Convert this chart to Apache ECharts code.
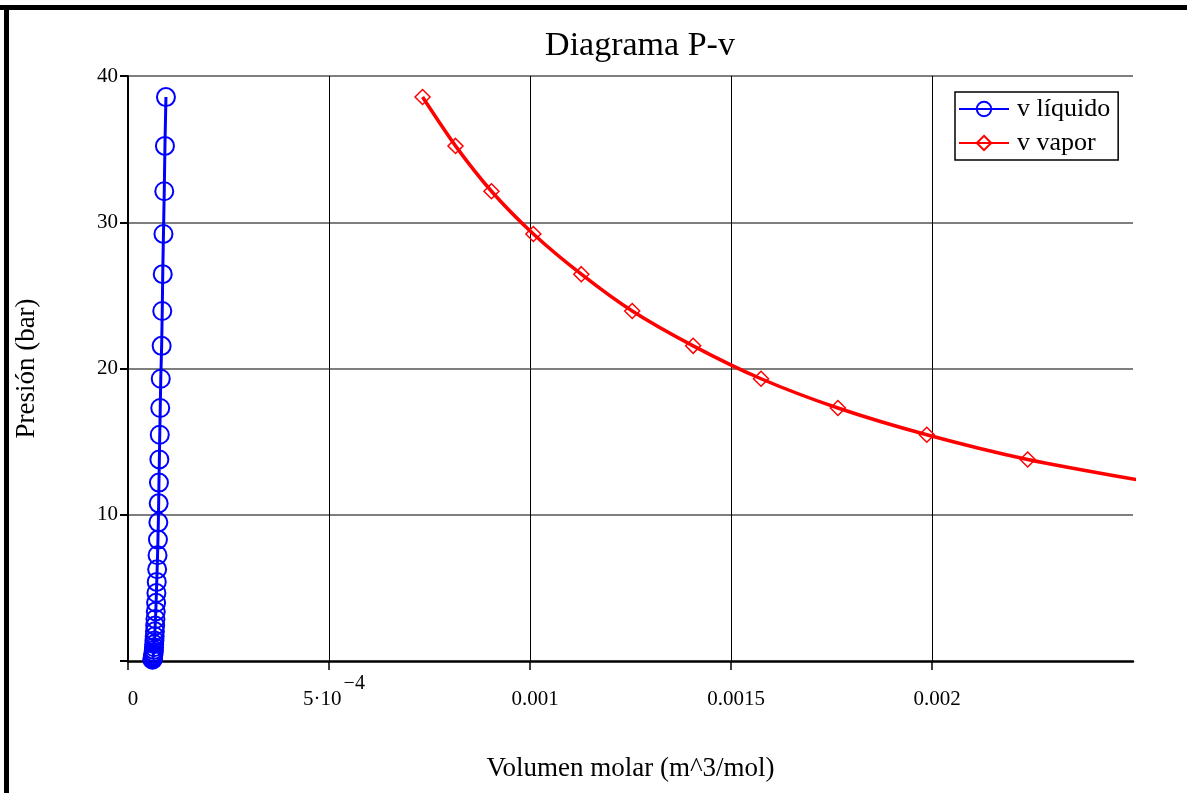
<!DOCTYPE html>
<html>
<head>
<meta charset="utf-8">
<script src="https://cdn.jsdelivr.net/npm/echarts@6/dist/echarts.min.js"></script>
<style>
html,body{margin:0;padding:0;background:#fff;}
#chart{width:1187px;height:793px;}
</style>
</head>
<body>
<div id="chart"></div>
<script>
// Pressures (bar) at each saturation state
const pressure = [38.56, 35.22, 32.12, 29.2, 26.45, 23.93, 21.55, 19.3, 17.3, 15.47, 13.78, 12.2, 10.78, 9.48, 8.3, 7.23, 6.27, 5.41, 4.65, 3.98, 3.39, 2.87, 2.42, 2.03, 1.69, 1.4, 1.15, 0.94, 0.76, 0.61, 0.48, 0.38, 0.29, 0.22, 0.17, 0.12, 0.09];
// Liquid molar volume (m^3/mol)
const vLiquid = [9.44e-5, 9.19e-5, 9.02e-5, 8.82e-5, 8.64e-5, 8.52e-5, 8.37e-5, 8.15e-5, 8.02e-5, 7.9e-5, 7.8e-5, 7.7e-5, 7.63e-5, 7.55e-5, 7.45e-5, 7.35e-5, 7.25e-5, 7.15e-5, 7.07e-5, 6.99e-5, 6.91e-5, 6.83e-5, 6.76e-5, 6.7e-5, 6.64e-5, 6.58e-5, 6.52e-5, 6.47e-5, 6.42e-5, 6.37e-5, 6.32e-5, 6.28e-5, 6.24e-5, 6.2e-5, 6.16e-5, 6.12e-5, 6.08e-5];
// Vapor molar volume (m^3/mol) for the first states (rest beyond axis range)
const vVapor = [7.327e-4, 8.147e-4, 9.041e-4, 1.0084e-3, 1.1276e-3, 1.2543e-3, 1.4059e-3, 1.5747e-3, 1.766e-3, 1.987e-3, 2.238e-3, 2.55e-3];
// Axis tick labels
const xTickLabels = {0: '0', 0.0005: '5·10|−4', 0.001: '0.001', 0.0015: '0.0015', 0.002: '0.002'};
const yTicks = [10, 20, 30, 40];

const FONT = '"Liberation Serif", "Times New Roman", serif';

const liquidData = vLiquid.map((v, i) => [v, pressure[i]]);
const vaporData = vVapor.map((v, i) => [v, pressure[i]]);

const chart = echarts.init(document.getElementById('chart'), null, {renderer: 'canvas'});
chart.setOption({
  animation: false,
  backgroundColor: '#fff',
  title: {
    text: 'Diagrama P-v',
    left: 635, top: 24, textAlign: 'center',
    textStyle: {fontFamily: FONT, fontSize: 34, fontWeight: 'normal', color: '#000'}
  },
  grid: {left: 128, top: 76, right: 54, bottom: 132, containLabel: false},
  legend: {
    left: 955, top: 92, orient: 'vertical',
    backgroundColor: '#fff',
    borderColor: '#000', borderWidth: 1.5,
    padding: [4, 8, 4, 3],
    itemWidth: 50, itemHeight: 18, itemGap: 8,
    textStyle: {fontFamily: FONT, fontSize: 26, color: '#000', padding: [0, 0, 0, 3]},
    data: ['v líquido', 'v vapor']
  },
  xAxis: {
    type: 'value', min: 0, max: 0.0025, interval: 0.0005,
    name: 'Volumen molar (m^3/mol)', nameLocation: 'middle', nameGap: 94,
    nameTextStyle: {fontFamily: FONT, fontSize: 27, color: '#000'},
    axisLine: {show: true, onZero: false, lineStyle: {color: '#000', width: 2.5}},
    axisTick: {show: true, length: 9, lineStyle: {color: '#000', width: 1.5}},
    splitLine: {show: true, showMinLine: false, showMaxLine: false, lineStyle: {color: '#000', width: 1}},
    axisLabel: {
      margin: 13, showMaxLabel: false,
      formatter: function (val) {
        const key = Math.round(val * 1e5) / 1e5;
        const s = xTickLabels[key];
        if (s === undefined) return '';
        if (s.indexOf('|') >= 0) {
          const p = s.split('|');
          return '{h| }{b|' + p[0] + '}{s|' + p[1] + '}';
        }
        return '{h| }{b|' + s + '}';
      },
      rich: {
        h: {fontSize: 1, lineHeight: 36, width: 0},
        b: {fontFamily: FONT, fontSize: 21, color: '#000', lineHeight: 22, verticalAlign: 'bottom', padding: [0, 0, 0, 10]},
        s: {fontFamily: FONT, fontSize: 20, color: '#000', lineHeight: 20, verticalAlign: 'top', padding: [0, 0, 0, 2]}
      }
    }
  },
  yAxis: {
    type: 'value', min: 0, max: 40, interval: 10,
    name: 'Presión (bar)', nameLocation: 'middle', nameGap: 88, nameRotate: 90,
    nameTextStyle: {fontFamily: FONT, fontSize: 27, color: '#000'},
    axisLine: {show: true, onZero: false, lineStyle: {color: '#000', width: 2}},
    axisTick: {show: true, length: 8, lineStyle: {color: '#000', width: 2}},
    splitLine: {show: true, showMinLine: false, showMaxLine: true, lineStyle: {color: '#555', width: 1.5}},
    axisLabel: {
      margin: 10,
      fontFamily: FONT, fontSize: 21, color: '#000',
      formatter: function (val) { return yTicks.indexOf(val) >= 0 ? String(val) : ''; }
    }
  },
  series: [
    {
      name: 'v líquido', type: 'line', data: liquidData,
      symbol: 'circle', symbolSize: 18, showAllSymbol: true,
      lineStyle: {color: '#0000ff', width: 3},
      itemStyle: {color: 'rgba(0,0,0,0)', borderColor: '#0000ff', borderWidth: 2},
      clip: true, z: 3
    },
    {
      name: 'v vapor', type: 'line', data: vaporData,
      symbol: 'diamond', symbolSize: 15, showAllSymbol: true,
      smooth: 0.25,
      lineStyle: {color: '#ff0000', width: 3.5},
      itemStyle: {color: 'rgba(0,0,0,0)', borderColor: '#ff0000', borderWidth: 1.5},
      clip: true, z: 3
    }
  ],
  graphic: [
    {type: 'rect', shape: {x: 0, y: 5, width: 1187, height: 5}, style: {fill: '#000'}, silent: true},
    {type: 'rect', shape: {x: 4, y: 5, width: 5, height: 788}, style: {fill: '#000'}, silent: true}
  ]
});
</script>
</body>
</html>
